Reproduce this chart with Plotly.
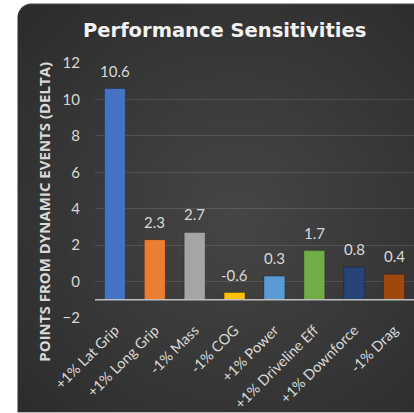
import base64, struct, zlib
import numpy as np
import plotly.graph_objects as go

# ---- data ----
categories = ["+1% Lat Grip", "+1% Long Grip", "-1% Mass", "-1% COG", "+1% Power",
              "+1% Driveline Eff", "+1% Downforce", "-1% Drag"]
values = [10.6, 2.3, 2.7, -0.6, 0.3, 1.7, 0.8, 0.4]
value_labels = ["10.6", "2.3", "2.7", "-0.6", "0.3", "1.7", "0.8", "0.4"]
bar_colors = ["#4472C4", "#ED7D31", "#A5A5A5", "#FFC000", "#5B9BD5",
              "#70AD47", "#264478", "#9E480E"]
y_ticks = [-2, 0, 2, 4, 6, 8, 10, 12]
AXIS_CROSS = -1  # horizontal axis crosses the value axis here

W, H = 414, 413
ML, MR, MT, MB = 95, 0, 63, 94.5

# ---- background image (dark rounded panel with radial gradient) ----
def make_bg():
    yy, xx = np.mgrid[0:H, 0:W].astype(float)
    x0, y0, x1, y1, r = 17.0, 3.0, 440.0, 425.0, 14.0
    cx, cy = 235.0, 215.0
    d = np.sqrt((xx - cx) ** 2 + (yy - cy) ** 2) / 320.0
    d = np.clip(d, 0, 1)
    c = 70 - (70 - 42) * d
    qx = np.clip(xx, x0 + r, x1 - r)
    qy = np.clip(yy, y0 + r, y1 - r)
    dist = np.sqrt((xx - qx) ** 2 + (yy - qy) ** 2)
    inside = (xx >= x0) & (xx <= x1) & (yy >= y0) & (yy <= y1)
    a = np.where(inside, np.clip(r + 0.5 - dist, 0, 1), 0.0)
    arr = np.zeros((H, W, 4), dtype=np.uint8)
    arr[..., 0] = c
    arr[..., 1] = c
    arr[..., 2] = c
    arr[..., 3] = (a * 255).astype(np.uint8)
    raw = b"".join(b"\x00" + arr[i].tobytes() for i in range(H))

    def chunk(t, dat):
        return struct.pack(">I", len(dat)) + t + dat + struct.pack(">I", zlib.crc32(t + dat) & 0xFFFFFFFF)

    png = (b"\x89PNG\r\n\x1a\n"
           + chunk(b"IHDR", struct.pack(">IIBBBBB", W, H, 8, 6, 0, 0, 0))
           + chunk(b"IDAT", zlib.compress(raw, 9))
           + chunk(b"IEND", b""))
    return "data:image/png;base64," + base64.b64encode(png).decode()

FONT = "Lato"
TXT = "#D9D9D9"

bases = [AXIS_CROSS] * len(values)
heights = [v - AXIS_CROSS for v in values]

fig = go.Figure(go.Bar(
    x=categories, y=heights, base=bases,
    marker=dict(color=bar_colors, line=dict(color="rgba(0,0,0,0.25)", width=1)),
    hoverinfo="skip",
))

plot_h = H - MT - MB
plot_w = W - ML - MR

label_annotations = [
    dict(x=c, y=v, xref="x", yref="y", text=t, showarrow=False,
         yanchor="middle", yshift=18, font=dict(family=FONT, size=15, color=TXT))
    for c, v, t in zip(categories, values, value_labels)
]

fig.update_layout(
    width=W, height=H,
    margin=dict(l=ML, r=MR, t=MT, b=MB, autoexpand=False),
    paper_bgcolor="white", plot_bgcolor="rgba(0,0,0,0)",
    bargap=0.475, showlegend=False,
    font=dict(family=FONT, color=TXT),
    images=[dict(source=make_bg(), xref="paper", yref="paper",
                 x=-ML / plot_w, y=1 + MT / plot_h,
                 sizex=W / plot_w, sizey=H / plot_h,
                 xanchor="left", yanchor="top", sizing="stretch", layer="below")],
    xaxis=dict(tickangle=-45, tickfont=dict(family=FONT, size=14.5, color=TXT),
               showgrid=False, showline=False, ticks=""),
    yaxis=dict(range=[-2, 12], tickvals=y_ticks, tickfont=dict(family=FONT, size=15, color=TXT),
               gridcolor="rgba(255,255,255,0.12)", gridwidth=1, zeroline=False,
               showline=False, ticks="", ticklabelstandoff=14),
    shapes=[dict(type="line", xref="paper", yref="y", x0=0, x1=1, y0=AXIS_CROSS, y1=AXIS_CROSS,
                 line=dict(color="#BFBFBF", width=1.5), layer="above")],
    annotations=[
        dict(text="<b>Performance Sensitivities</b>", xref="paper", yref="paper",
             x=(224 - ML) / plot_w, y=(H - MB - 30) / plot_h, xanchor="center", yanchor="middle",
             showarrow=False, font=dict(family="DejaVu Sans", size=19.5, color="#F2F2F2")),
        dict(text="<b>POINTS FROM DYNAMIC EVENTS (DELTA)</b>", xref="paper", yref="paper",
             x=(44 - ML) / plot_w, y=(H - MB - 212) / plot_h, xanchor="center", yanchor="middle",
             textangle=-90, showarrow=False, font=dict(family="Open Sans", size=15, color=TXT)),
    ] + label_annotations,
)

fig.write_html("out.html")
